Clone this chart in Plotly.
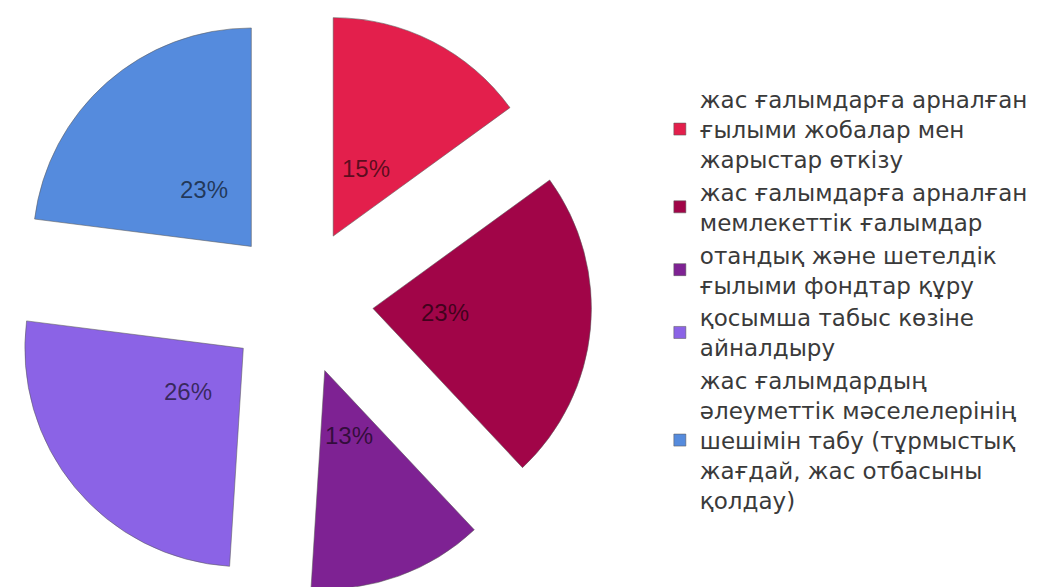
import math
import plotly.graph_objects as go

labels = [
    "жас ғалымдарға арналған<br>ғылыми жобалар мен<br>жарыстар өткізу",
    "жас ғалымдарға арналған<br>мемлекеттік ғалымдар",
    "отандық және шетелдік<br>ғылыми фондтар құру",
    "қосымша табыс көзіне<br>айналдыру",
    "жас ғалымдардың<br>әлеуметтік мәселелерінің<br>шешімін табу (тұрмыстық<br>жағдай, жас отбасыны<br>қолдау)",
]
values = [15, 23, 13, 26, 23]
colors = ["#E31F4C", "#A10548", "#7E2293", "#8B63E6", "#558BDD"]

W, H = 1048, 587
dom_x = [0.0, 0.557]
dom_y = [0.0, 1.0]
pull = 0.336

fig = go.Figure(go.Pie(
    labels=labels,
    values=values,
    sort=False,
    direction="clockwise",
    rotation=0,
    pull=[pull] * len(values),
    marker=dict(colors=colors, line=dict(color="rgba(90,90,90,0.55)", width=1)),
    textinfo="none",
    domain=dict(x=dom_x, y=dom_y),
    hoverinfo="label+percent",
))

# percentage labels placed along each slice's mid-angle, derived from the values
total = sum(values)
cx = W * (dom_x[0] + dom_x[1]) / 2
cy = H * (1 - (dom_y[0] + dom_y[1]) / 2)
r = min(W * (dom_x[1] - dom_x[0]), H * (dom_y[1] - dom_y[0])) / 2 / (1 + pull)
dist = pull * r + 0.33 * r
cum = 0
annotations = []
for v in values:
    mid = (cum + v / 2) / total * 2 * math.pi
    cum += v
    px = cx + dist * math.sin(mid)
    py = cy - dist * math.cos(mid) - 3
    annotations.append(dict(
        x=px / W, y=1 - py / H, xref="paper", yref="paper",
        text=f"{round(v / total * 100)}%", showarrow=False,
        xanchor="center", yanchor="middle",
        font=dict(family="Liberation Sans, Arial, sans-serif", size=24, color="rgba(0,0,0,0.6)"),
    ))

fig.update_layout(
    width=W,
    height=H,
    margin=dict(l=0, r=0, t=0, b=0),
    paper_bgcolor="white",
    plot_bgcolor="white",
    showlegend=True,
    annotations=annotations,
    legend=dict(
        x=0.622,
        y=0.503,
        xanchor="left",
        yanchor="middle",
        font=dict(family="DejaVu Sans, sans-serif", size=23, color="#3a3a3a"),
        tracegroupgap=0,
        itemwidth=30,
    ),
)

fig.write_html("out.html")
